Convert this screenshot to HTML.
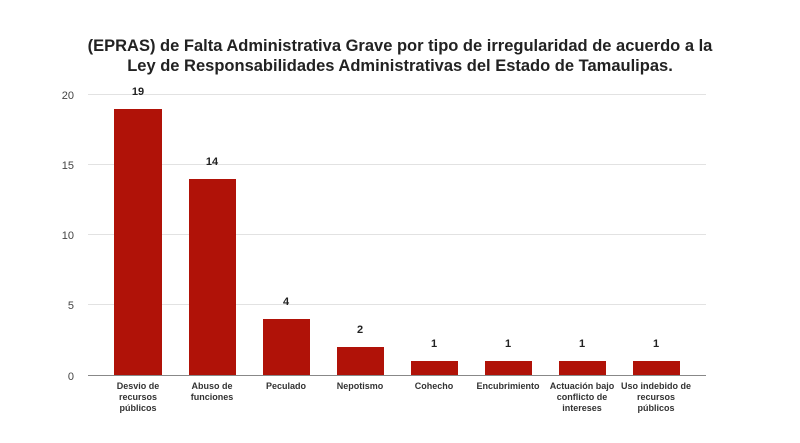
<!DOCTYPE html>
<html><head><meta charset="utf-8"><style>
body{margin:0;background:#fff;}
</style></head><body>
<svg width="800" height="438" xmlns="http://www.w3.org/2000/svg" font-family="Liberation Sans, sans-serif">
<rect width="800" height="438" fill="#fff"/>
<text x="400" y="51" text-anchor="middle" font-size="16.5" font-weight="bold" fill="#222">(EPRAS) de Falta Administrativa Grave por tipo de irregularidad de acuerdo a la</text>
<text x="400" y="71" text-anchor="middle" font-size="16.5" font-weight="bold" fill="#222">Ley de Responsabilidades Administrativas del Estado de Tamaulipas.</text>
<g stroke="#e2e2e2" stroke-width="1">
<line x1="88" x2="706" y1="94.5" y2="94.5"/><line x1="88" x2="706" y1="164.5" y2="164.5"/>
<line x1="88" x2="706" y1="234.5" y2="234.5"/><line x1="88" x2="706" y1="304.5" y2="304.5"/>
</g>
<g font-size="11" fill="#444" text-anchor="end">
<text x="74" y="99">20</text><text x="74" y="169">15</text><text x="74" y="239">10</text><text x="74" y="309">5</text><text x="74" y="380">0</text>
</g>
<g fill="#b01208">
<rect x="114" y="109" width="48" height="266"/>
<rect x="189" y="179" width="47" height="196"/>
<rect x="263" y="319" width="47" height="56"/>
<rect x="337" y="347" width="47" height="28"/>
<rect x="411" y="361" width="47" height="14"/>
<rect x="485" y="361" width="47" height="14"/>
<rect x="559" y="361" width="47" height="14"/>
<rect x="633" y="361" width="47" height="14"/>
</g>
<line x1="88" x2="706" y1="375.5" y2="375.5" stroke="#888" stroke-width="1"/>
<g font-size="11" font-weight="bold" fill="#222" text-anchor="middle">
<text x="138" y="95">19</text><text x="212" y="165">14</text><text x="286" y="305">4</text>
<text x="360" y="333">2</text><text x="434" y="347">1</text><text x="508" y="347">1</text>
<text x="582" y="347">1</text><text x="656" y="347">1</text>
</g>
<g font-size="9" font-weight="bold" fill="#333" text-anchor="middle">
<text x="138" y="389">Desvio de</text><text x="138" y="400">recursos</text><text x="138" y="411">públicos</text>
<text x="212" y="389">Abuso de</text><text x="212" y="400">funciones</text>
<text x="286" y="389">Peculado</text>
<text x="360" y="389">Nepotismo</text>
<text x="434" y="389">Cohecho</text>
<text x="508" y="389">Encubrimiento</text>
<text x="582" y="389">Actuación bajo</text><text x="582" y="400">conflicto de</text><text x="582" y="411">intereses</text>
<text x="656" y="389">Uso indebido de</text><text x="656" y="400">recursos</text><text x="656" y="411">públicos</text>
</g>
</svg>
</body></html>
